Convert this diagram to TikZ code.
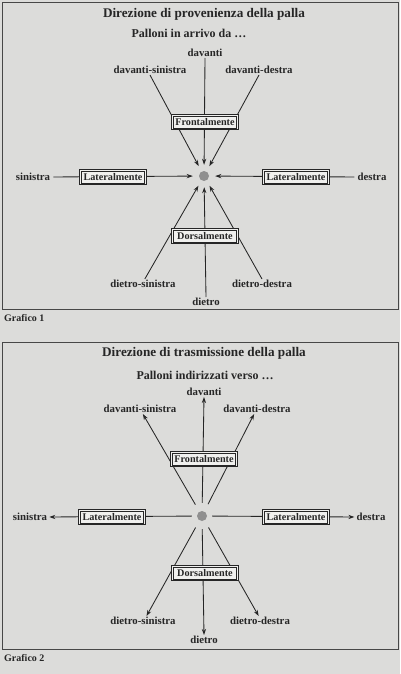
\documentclass[tikz,border=0pt]{standalone}
\usepackage{fontspec}
\setmainfont{Liberation Serif}
\usetikzlibrary{arrows.meta,calc}
\definecolor{paper}{HTML}{DCDCDA}
\definecolor{ink}{HTML}{262626}
\definecolor{boxfill}{HTML}{F0F0EE}
\pgfdeclarelayer{bg}
\pgfsetlayers{bg,main}
\begin{document}
\begin{tikzpicture}[x=1pt,y=-1pt,
  every node/.style={text=ink, inner sep=1pt},
  lbl/.style={font=\fontsize{10.8}{12}\selectfont\bfseries},
  ttl/.style={font=\fontsize{13.2}{15}\selectfont\bfseries},
  sub/.style={font=\fontsize{12}{14}\selectfont\bfseries},
  dirbox/.style={font=\fontsize{10.2}{12}\selectfont\bfseries, fill=boxfill, minimum width=66pt, minimum height=15pt, inner sep=2pt},
  outerline/.style={draw=ink, line width=0.8pt},
  innerline/.style={draw=ink, line width=0.45pt},
  ball/.style={circle, fill=gray!75!black!70, minimum size=10pt, inner sep=0pt},
  frame/.style={draw=ink!85, line width=0.9pt},
  con/.style={draw=ink, line width=0.85pt},
  arr/.style={con, -{Stealth[length=6pt,width=4.2pt]}},
  grafico/.style={font=\fontsize{10}{12}\selectfont\bfseries, anchor=west}
]
\useasboundingbox (0,0) rectangle (400,674);
\begin{pgfonlayer}{bg}
\fill[paper] (0,0) rectangle (400,674);
\end{pgfonlayer}
\draw[frame] (2,2) rectangle (398,309);
\draw[frame] (2,342) rectangle (398,649);

% ---------------- Panel 1 ----------------
\node[ttl] (t1) at (204,14) {Direzione di provenienza della palla};
\node[sub] (s1) at (189,33) {Palloni in arrivo da …};
\node[lbl] (dav1) at (205,53) {davanti};
\node[lbl] (ds1) at (150,70) {davanti-sinistra};
\node[lbl] (dd1) at (259,70) {davanti-destra};
\node[dirbox] (F1) at (205,122) {Frontalmente};
\node[ball] (ball1) at (204,176) {};
\node[lbl] (sin1) at (33,177) {sinistra};
\node[dirbox] (L1) at (113,177) {Lateralmente};
\node[dirbox] (R1) at (296,177) {Lateralmente};
\node[lbl] (des1) at (372,177) {destra};
\node[dirbox] (D1) at (205,236) {Dorsalmente};
\node[lbl] (dts1) at (143,284) {dietro-sinistra};
\node[lbl] (dtd1) at (262,284) {dietro-destra};
\node[lbl] (dt1) at (206,302) {dietro};
\node[grafico] (g1) at (3,318) {Grafico 1};

\foreach \b in {F1,L1,R1,D1}{
  \draw[outerline] (\b.north west) rectangle (\b.south east);
  \draw[innerline] ([shift={(1.6pt,-1.6pt)}]\b.north west) rectangle ([shift={(-1.6pt,1.6pt)}]\b.south east);
}

\begin{pgfonlayer}{bg}
\draw[arr, shorten >=6pt] (dav1.south) -- (ball1);
\draw[arr, shorten >=6pt] (ds1.south) -- (ball1);
\draw[arr, shorten >=6pt] (dd1.south) -- (ball1);
\draw[arr, shorten >=6pt, shorten <=2pt] (sin1.east) -- (ball1);
\draw[arr, shorten >=6pt, shorten <=2pt] (des1.west) -- (ball1);
\draw[arr, shorten >=6pt] (dts1.70) -- (ball1);
\draw[arr, shorten >=6pt] (dtd1.north) -- (ball1);
\draw[arr, shorten >=6pt] (dt1.north) -- (ball1);
\end{pgfonlayer}

% ---------------- Panel 2 ----------------
\node[ttl] (t2) at (204,353) {Direzione di trasmissione della palla};
\node[sub] (s2) at (205,375) {Palloni indirizzati verso …};
\node[lbl] (dav2) at (204,392) {davanti};
\node[lbl] (ds2) at (140,409) {davanti-sinistra};
\node[lbl] (dd2) at (257,409) {davanti-destra};
\node[dirbox] (F2) at (204,459) {Frontalmente};
\node[ball] (ball2) at (202,516) {};
\node[lbl] (sin2) at (30,517) {sinistra};
\node[dirbox] (L2) at (112,517) {Lateralmente};
\node[dirbox] (R2) at (296,517) {Lateralmente};
\node[lbl] (des2) at (371,517) {destra};
\node[dirbox] (D2) at (205,573) {Dorsalmente};
\node[lbl] (dts2) at (143,621) {dietro-sinistra};
\node[lbl] (dtd2) at (260,621) {dietro-destra};
\node[lbl] (dt2) at (204,640) {dietro};
\node[grafico] (g2) at (3,658) {Grafico 2};

\foreach \b in {F2,L2,R2,D2}{
  \draw[outerline] (\b.north west) rectangle (\b.south east);
  \draw[innerline] ([shift={(1.6pt,-1.6pt)}]\b.north west) rectangle ([shift={(-1.6pt,1.6pt)}]\b.south east);
}

\begin{pgfonlayer}{bg}
\draw[arr, shorten <=8pt] (ball2) -- (dav2.south);
\draw[arr, shorten <=8pt] (ball2) -- (ds2.-60);
\draw[arr, shorten <=8pt] (ball2) -- (dd2.-120);
\draw[arr, shorten <=5pt, shorten >=1pt] (ball2) -- (sin2.east);
\draw[arr, shorten <=5pt, shorten >=1pt] (ball2) -- (des2.west);
\draw[arr, shorten <=8pt] (ball2) -- (dts2.55);
\draw[arr, shorten <=8pt] (ball2) -- (dtd2.105);
\draw[arr, shorten <=8pt] (ball2) -- (dt2.north);
\end{pgfonlayer}
\end{tikzpicture}
\end{document}
